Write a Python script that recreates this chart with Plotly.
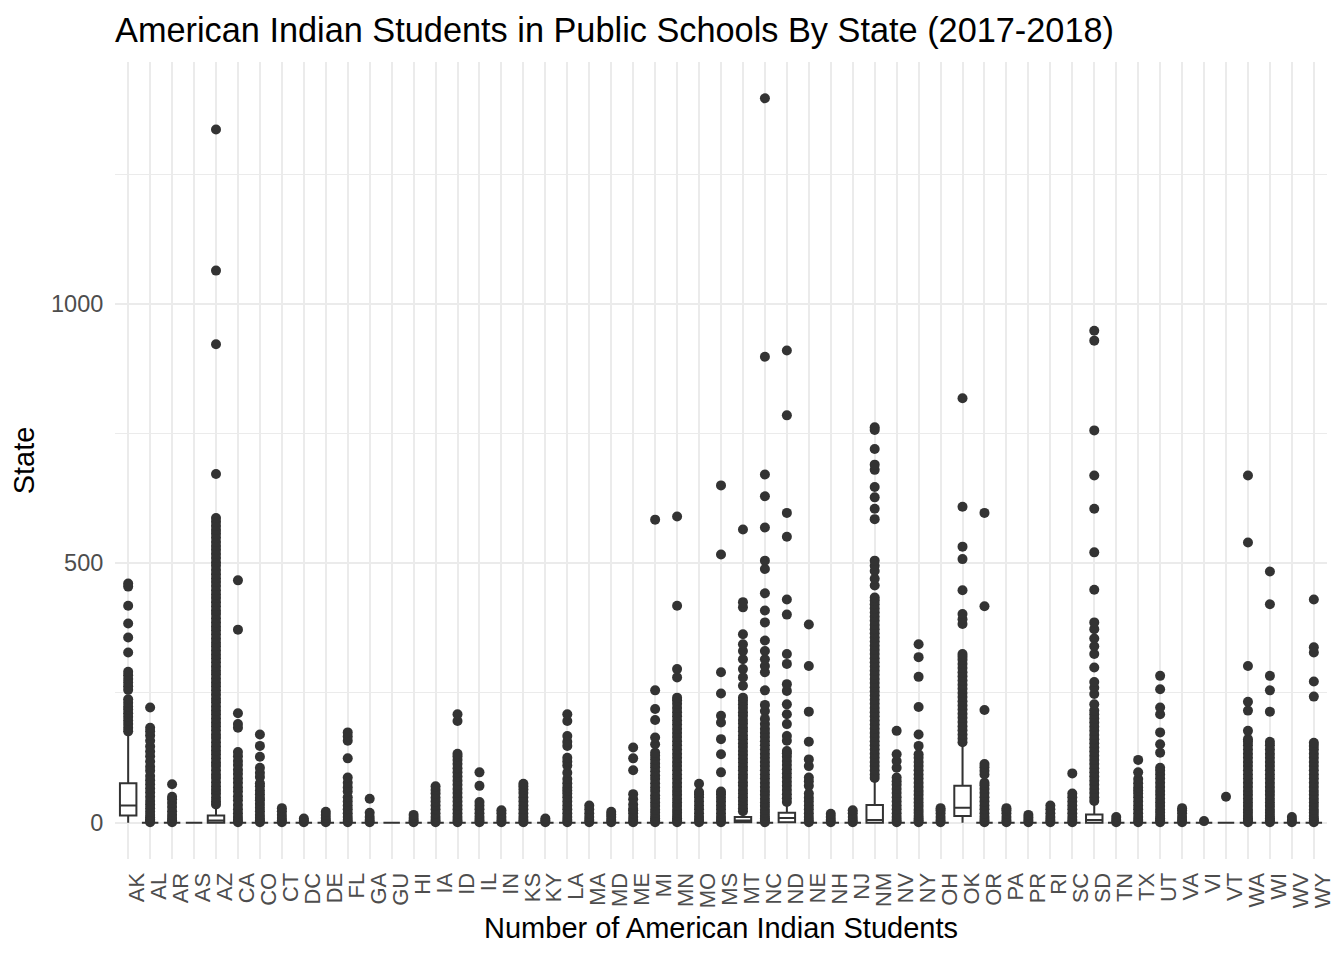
import plotly.graph_objects as go

# states in axis order
states = ["AK", "AL", "AR", "AS", "AZ", "CA", "CO", "CT", "DC", "DE", "FL", "GA", "GU", "HI",
          "IA", "ID", "IL", "IN", "KS", "KY", "LA", "MA", "MD", "ME", "MI", "MN", "MO", "MS",
          "MT", "NC", "ND", "NE", "NH", "NJ", "NM", "NV", "NY", "OH", "OK", "OR", "PA", "PR",
          "RI", "SC", "SD", "TN", "TX", "UT", "VA", "VI", "VT", "WA", "WI", "WV", "WY"]

# box statistics (most states collapse to 0)
q1 = {"AK": 14, "AZ": 0, "MT": 1, "ND": 1, "NM": 0, "OK": 13, "SD": 0}
median = {"AK": 33, "AZ": 4, "MT": 4, "ND": 9, "NM": 5, "OK": 29, "SD": 5}
q3 = {"AK": 76, "AZ": 14, "MT": 11, "ND": 19, "NM": 34, "OK": 71, "SD": 16}
upper = {"AK": 170, "AZ": 34, "MT": 21, "ND": 37, "NM": 84, "OK": 150, "SD": 40}

# outliers per state
out_AK = [176, 183, 190, 197, 204, 211, 218, 224, 231, 238, 256, 263, 270, 277, 284, 291, 328, 357, 384, 418, 455, 461]
out_AL = [1, 3, 6, 10, 15, 21, 28, 35, 42, 50, 58, 66, 74, 82, 90, 100, 108, 118, 128, 137, 147, 158, 168, 176, 183, 222]
out_AR = [1, 4, 9, 15, 22, 30, 38, 45, 50, 74]
out_AS = []
out_AZ = [35, 41, 48, 56, 63, 70, 78, 86, 93, 101, 109, 116, 124, 132, 139, 147, 155, 163, 170, 178,
          186, 193, 201, 209, 216, 224, 232, 239, 247, 255, 263, 270, 278, 286, 293, 301, 309, 317,
          324, 332, 340, 347, 355, 363, 371, 378, 386, 394, 402, 409, 417, 425, 433, 440, 448, 456,
          464, 471, 479, 487, 495, 502, 510, 518, 526, 533, 541, 549, 557, 564, 572, 580, 587,
          672, 922, 1064, 1336]
out_CA = [1, 5, 11, 18, 26, 34, 43, 51, 60, 68, 77, 85, 94, 102, 111, 119, 128, 136, 183, 190, 211, 372, 467]
out_CO = [1, 4, 9, 15, 22, 29, 36, 43, 48, 55, 62, 70, 76, 88, 96, 106, 127, 148, 170]
out_CT = [1, 4, 9, 15, 22, 28]
out_DC = [1, 4, 8]
out_DE = [1, 4, 9, 15, 21]
out_FL = [1, 5, 11, 18, 26, 33, 41, 49, 60, 68, 77, 87, 124, 158, 166, 174]
out_GA = [1, 5, 11, 19, 46]
out_GU = []
out_HI = [1, 4, 9, 15]
out_IA = [1, 5, 11, 18, 26, 33, 41, 48, 56, 63, 70]
out_ID = [1, 5, 11, 18, 26, 33, 41, 49, 57, 65, 73, 81, 89, 97, 105, 113, 121, 128, 133, 196, 209]
out_IL = [1, 5, 11, 18, 26, 33, 40, 71, 97]
out_IN = [1, 5, 11, 18, 24]
out_KS = [1, 5, 11, 18, 26, 33, 41, 49, 57, 64, 70, 75]
out_KY = [1, 4, 8]
out_LA = [1, 5, 11, 18, 26, 33, 41, 49, 56, 62, 68, 76, 84, 96, 110, 118, 125, 148, 156, 167, 196, 209]
out_MA = [1, 5, 11, 18, 26, 33]
out_MD = [1, 5, 11, 16, 21]
out_ME = [1, 5, 11, 18, 24, 27, 35, 45, 55, 101, 124, 145]
out_MI = [1, 4, 8, 13, 19, 25, 32, 39, 46, 53, 61, 68, 76, 84, 91, 99, 107, 114, 122, 129, 135,
          151, 164, 198, 219, 255, 584]
out_MN = [1, 4, 8, 13, 19, 25, 32, 39, 46, 54, 61, 69, 77, 85, 93, 101, 109, 117, 125, 133, 141,
          149, 157, 165, 173, 181, 189, 197, 205, 213, 221, 229, 236, 241, 280, 296, 418, 590]
out_MO = [1, 5, 11, 18, 26, 33, 41, 49, 55, 59, 75]
out_MS = [1, 5, 11, 18, 26, 33, 41, 48, 55, 60, 97, 132, 161, 193, 206, 249, 290, 517, 650]
out_MT = [22, 28, 35, 42, 49, 56, 63, 71, 78, 86, 93, 101, 108, 116, 123, 131, 138, 146, 153, 161,
          168, 176, 183, 191, 198, 206, 213, 221, 228, 235, 241, 264, 280, 296, 315, 331, 344, 363,
          415, 425, 565]
out_NC = [1, 4, 8, 13, 19, 25, 32, 39, 46, 54, 61, 69, 77, 85, 93, 101, 109, 117, 125, 133, 141,
          149, 157, 165, 173, 181, 190, 200, 215, 227, 255, 290, 302, 315, 331, 351, 386, 409, 442,
          489, 505, 569, 629, 671, 898, 1396]
out_ND = [40, 47, 55, 63, 71, 79, 87, 95, 103, 111, 119, 127, 134, 138, 158, 167, 190, 209, 228,
          254, 267, 306, 325, 401, 430, 551, 597, 785, 910]
out_NE = [1, 5, 11, 18, 26, 33, 41, 48, 56, 71, 80, 87, 109, 122, 156, 214, 302, 382]
out_NH = [1, 5, 11, 17]
out_NJ = [1, 5, 11, 18, 24]
out_NM = [86, 93, 101, 109, 117, 125, 133, 141, 149, 157, 165, 173, 181, 189, 197, 205, 213, 221,
          229, 237, 245, 253, 261, 269, 277, 285, 293, 301, 309, 317, 325, 333, 341, 349, 357, 365,
          373, 381, 389, 397, 405, 413, 421, 428, 434, 457, 470, 485, 495, 505, 585, 605, 627, 647,
          680, 690, 720, 757, 762]
out_NV = [1, 5, 11, 18, 26, 33, 41, 49, 57, 65, 73, 80, 87, 106, 119, 132, 177]
out_NY = [1, 4, 8, 13, 19, 25, 32, 39, 46, 54, 61, 69, 77, 85, 93, 101, 109, 117, 125, 132,
          148, 170, 223, 281, 319, 344]
out_OH = [1, 5, 11, 18, 24, 28]
out_OK = [155, 162, 170, 178, 186, 194, 202, 210, 218, 226, 234, 242, 250, 258, 266, 274, 282, 290,
          298, 306, 314, 320, 325, 383, 392, 402, 448, 508, 532, 609, 818]
out_OR = [1, 5, 11, 18, 26, 33, 41, 49, 57, 65, 72, 77, 93, 100, 107, 113, 217, 417, 597]
out_PA = [1, 5, 11, 18, 24, 28]
out_PR = [1, 5, 10, 15]
out_RI = [1, 5, 11, 18, 26, 33]
out_SC = [1, 5, 11, 18, 26, 33, 41, 49, 56, 95]
out_SD = [42, 49, 57, 65, 73, 81, 89, 97, 105, 113, 121, 129, 137, 145, 153, 161, 169, 177, 185, 193,
          201, 209, 216, 228, 248, 260, 271, 299, 325, 340, 355, 373, 386, 449, 521, 605, 669, 756,
          929, 948]
out_TN = [1, 5, 11]
out_TX = [1, 5, 11, 18, 26, 33, 41, 49, 56, 62, 68, 76, 84, 97, 121]
out_UT = [1, 4, 8, 13, 19, 25, 32, 39, 46, 54, 61, 69, 77, 85, 93, 100, 106, 135, 151, 174, 209, 222, 257, 283]
out_VA = [1, 5, 11, 18, 24, 28]
out_VI = [3]
out_VT = [50]
out_WA = [1, 4, 8, 13, 19, 25, 32, 39, 46, 54, 61, 69, 77, 85, 93, 101, 109, 117, 125, 133, 141,
          149, 156, 161, 177, 216, 233, 302, 540, 669]
out_WI = [1, 4, 8, 13, 19, 25, 32, 39, 46, 54, 61, 69, 77, 85, 93, 101, 109, 117, 125, 133, 141,
          149, 156, 214, 255, 283, 421, 484]
out_WV = [1, 5, 11]
out_WY = [1, 4, 8, 13, 19, 25, 32, 39, 46, 54, 61, 69, 77, 85, 93, 101, 109, 117, 125, 133, 141,
          148, 154, 243, 272, 328, 338, 430]

outliers = [out_AK, out_AL, out_AR, out_AS, out_AZ, out_CA, out_CO, out_CT, out_DC, out_DE, out_FL,
            out_GA, out_GU, out_HI, out_IA, out_ID, out_IL, out_IN, out_KS, out_KY, out_LA, out_MA,
            out_MD, out_ME, out_MI, out_MN, out_MO, out_MS, out_MT, out_NC, out_ND, out_NE, out_NH,
            out_NJ, out_NM, out_NV, out_NY, out_OH, out_OK, out_OR, out_PA, out_PR, out_RI, out_SC,
            out_SD, out_TN, out_TX, out_UT, out_VA, out_VI, out_VT, out_WA, out_WI, out_WV, out_WY]

FONT = "Liberation Sans, Arial, sans-serif"
DARK = "#333333"
GRID = "#EBEBEB"

# page has an 8px body margin, so the figure is a bit smaller than the window
W, H = 1336, 952

pt_x, pt_y = [], []
for st, vals in zip(states, outliers):
    pt_x += [st] * len(vals)
    pt_y += vals

fig = go.Figure()

# outlier points
fig.add_trace(go.Scatter(x=pt_x, y=pt_y, mode="markers",
                         marker=dict(color=DARK, size=10, line=dict(width=0)),
                         hoverinfo="skip", showlegend=False))

# boxes from precomputed stats
fig.add_trace(go.Box(x=states,
                     q1=[q1.get(s, 0) for s in states],
                     median=[median.get(s, 0) for s in states],
                     q3=[q3.get(s, 0) for s in states],
                     lowerfence=[0 for s in states],
                     upperfence=[upper.get(s, 0) for s in states],
                     boxpoints=False, width=0.75, whiskerwidth=0,
                     fillcolor="white", line=dict(color=DARK, width=2),
                     hoverinfo="skip", showlegend=False))

fig.update_layout(
    width=W, height=H,
    paper_bgcolor="white", plot_bgcolor="white",
    margin=dict(l=107, r=9, t=54, b=101),
    font=dict(family=FONT),
    title=dict(text="American Indian Students in Public Schools By State (2017-2018)",
               x=0, xref="paper", xanchor="left",
               y=1 - 22 / H, yref="container", yanchor="middle",
               font=dict(size=34.3, color="black", family=FONT)),
    xaxis=dict(type="category", categoryorder="array", categoryarray=states,
               tickmode="array", tickvals=states, ticktext=states,
               range=[-0.6, len(states) - 0.4],
               showgrid=True, gridcolor=GRID, gridwidth=2, zeroline=False, showline=False,
               ticks="outside", ticklen=4, tickcolor="rgba(0,0,0,0)", tickangle=-90,
               ticklabelshift=9,
               tickfont=dict(size=22, color="#4D4D4D", family=FONT),
               title=dict(text="Number of American Indian Students", standoff=10,
                          font=dict(size=29, color="black", family=FONT))),
    yaxis=dict(range=[-70, 1466], tickmode="array", tickvals=[0, 500, 1000],
               showgrid=True, gridcolor=GRID, gridwidth=2, zeroline=False, showline=False,
               ticks="outside", ticklen=6, tickcolor="rgba(0,0,0,0)",
               tickfont=dict(size=23.5, color="#4D4D4D", family=FONT),
               minor=dict(tickmode="array", tickvals=[250, 750, 1250], showgrid=True,
                          gridcolor=GRID, gridwidth=1, ticks=""),
               title=dict(text="State", standoff=8,
                          font=dict(size=29, color="black", family=FONT))),
)

fig.write_html("out.html")
